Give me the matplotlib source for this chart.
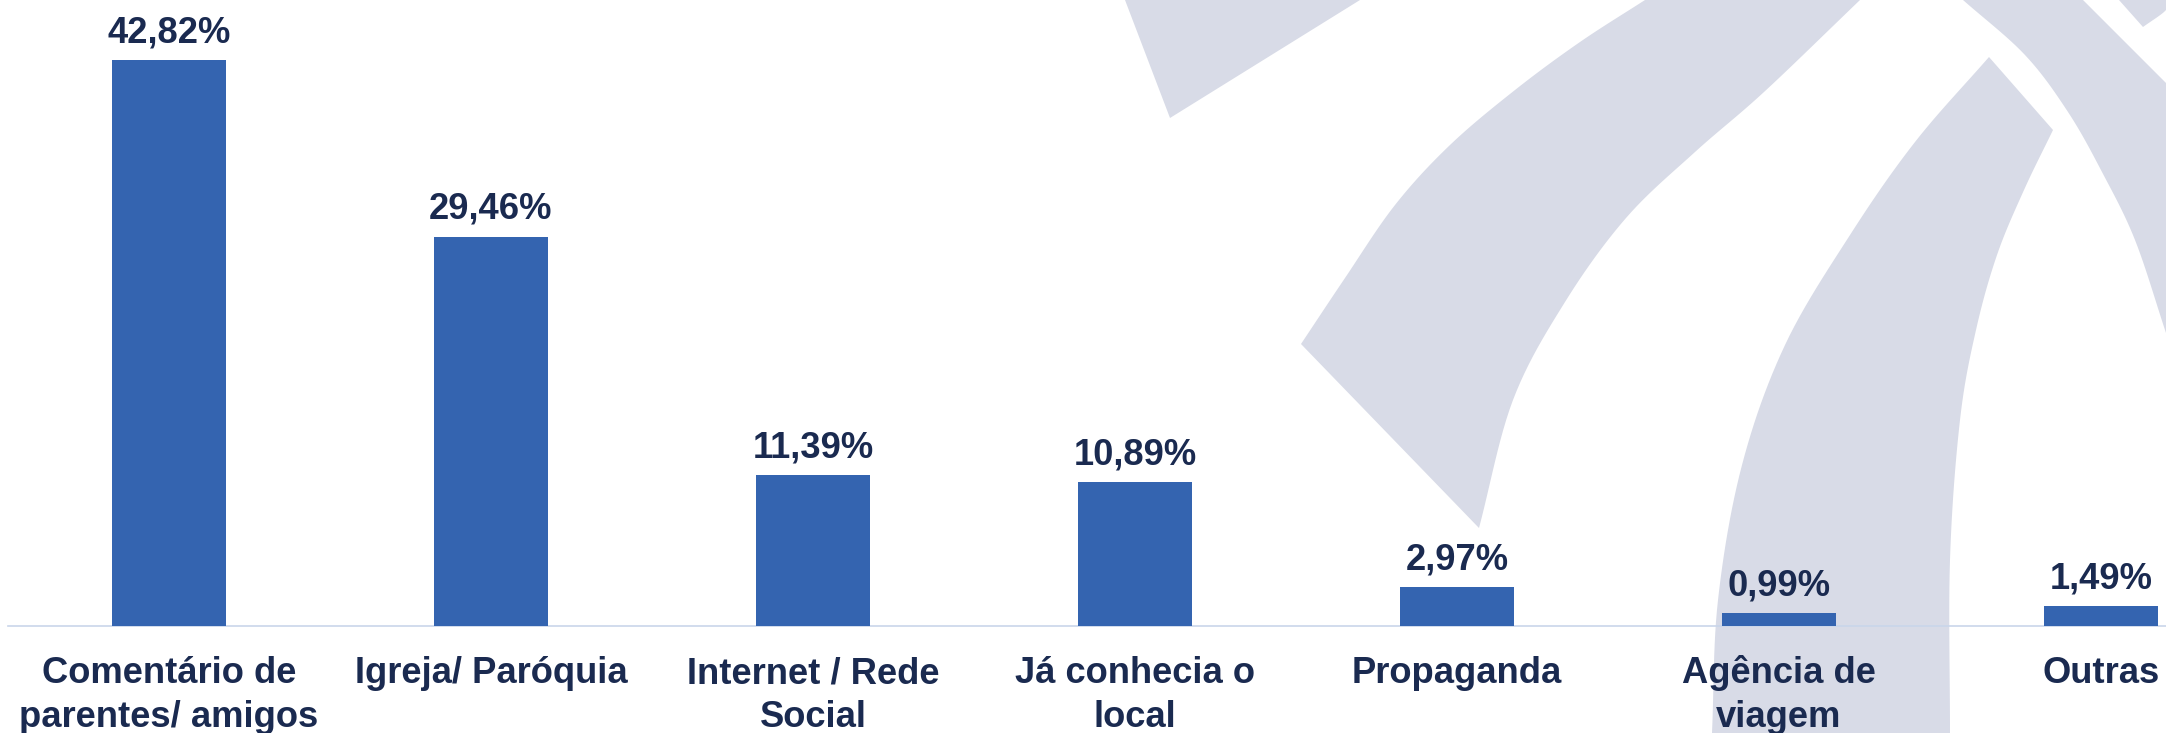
import matplotlib
matplotlib.use("Agg")
import matplotlib.pyplot as plt
import numpy as np
from matplotlib.patches import Polygon

# ---- data ----
categories = ["Comentário de\nparentes/ amigos", "Igreja/ Paróquia", "Internet / Rede\nSocial",
              "Já conhecia o\nlocal", "Propaganda", "Agência de\nviagem", "Outras"]
values = [42.82, 29.46, 11.39, 10.89, 2.97, 0.99, 1.49]
value_labels = ["42,82%", "29,46%", "11,39%", "10,89%", "2,97%", "0,99%", "1,49%"]

# ---- style ----
BAR = "#3464B0"
TXT = "#1A2A50"
WM = "#D8DBE7"
AXIS = "#C9D5EA"
plt.rcParams["font.family"] = ["Liberation Sans", "DejaVu Sans"]
FS = 26.2

W, H = 2166, 733
fig = plt.figure(figsize=(W / 100, H / 100), dpi=100)
fig.patch.set_facecolor("white")


def smooth(pts, n=12):
    """Catmull-Rom smoothing of a polyline (decorative outline only)."""
    p = np.asarray(pts, float)
    if len(p) < 3:
        return p
    ext = np.vstack([2 * p[0] - p[1], p, 2 * p[-1] - p[-2]])
    out = []
    for i in range(1, len(ext) - 2):
        p0, p1, p2, p3 = ext[i - 1], ext[i], ext[i + 1], ext[i + 2]
        for t in np.linspace(0, 1, n, endpoint=False):
            t2, t3 = t * t, t * t * t
            out.append(0.5 * ((2 * p1) + (-p0 + p2) * t + (2 * p0 - 5 * p1 + 4 * p2 - p3) * t2
                              + (-p0 + 3 * p1 - 3 * p2 + p3) * t3))
    out.append(p[-1])
    return np.array(out)


# background watermark (decorative), in pixel coordinates; each shape = list of edges
bg = fig.add_axes([0, 0, 1, 1], zorder=0)
bg.set_xlim(0, W)
bg.set_ylim(H, 0)
bg.axis("off")
shapes = [
    [[(1125, 0), (1170, 118)], [(1170, 118), (1360, 0)]],
    [[(1301, 344), (1345, 278), (1395, 205), (1450, 145), (1515, 90), (1580, 42), (1645, 0)],
     [(1645, 0), (1860, 0)],
     [(1860, 0), (1764, 92), (1695, 152), (1626, 218), (1565, 302), (1513, 400), (1479, 528)],
     [(1479, 528), (1301, 344)]],
    [[(1712, 733), (1718, 600), (1742, 465), (1785, 345), (1850, 235), (1915, 142), (1989, 57)],
     [(1989, 57), (2053, 130)],
     [(2053, 130), (2024, 190), (1997, 255), (1976, 330), (1960, 420), (1950, 560), (1950, 733)],
     [(1950, 733), (1712, 733)]],
    [[(1963, 0), (2025, 55), (2068, 112), (2102, 172), (2135, 240), (2166, 333)],
     [(2166, 333), (2166, 83), (2083, 0)]],
    [[(2119, 0), (2166, 0), (2166, 10), (2143, 27)]],
]
for edges in shapes:
    pts = np.vstack([smooth(e) if len(e) > 3 else np.asarray(e, float) for e in edges])
    bg.add_patch(Polygon(pts, closed=True, facecolor=WM, edgecolor="none"))

# main chart
left = 8 / W
width = (161 * 2 * 7) / W
bottom = (H - 626) / H
height = 626 / H
ax = fig.add_axes([left, bottom, width, height], zorder=1)
ax.patch.set_alpha(0)

x = list(range(len(categories)))
ax.bar(x, values, width=0.357, color=BAR, zorder=3)
ax.set_xlim(-0.5, len(categories) - 0.5)
ax.set_ylim(0, 626 / 13.22)

for s in ["top", "right", "left"]:
    ax.spines[s].set_visible(False)
ax.spines["bottom"].set_color(AXIS)
ax.spines["bottom"].set_linewidth(1.2)
ax.set_yticks([])
ax.set_xticks([])

for xi, v, lab in zip(x, values, value_labels):
    ax.annotate(lab, (xi, v), xytext=(0, 17.6 * 0.72), textcoords="offset points",
                ha="center", va="baseline", fontsize=FS, fontweight="bold", color=TXT)

for xi, cat in zip(x, categories):
    for k, line in enumerate(cat.split("\n")):
        ax.annotate(line, (xi, 0), xycoords=("data", "axes fraction"),
                    xytext=(0, -(57 + 44 * k) * 0.72), textcoords="offset points",
                    ha="center", va="baseline", fontsize=FS, fontweight="bold",
                    color=TXT, annotation_clip=False)

fig.savefig("out.png", dpi=100, facecolor="white")
